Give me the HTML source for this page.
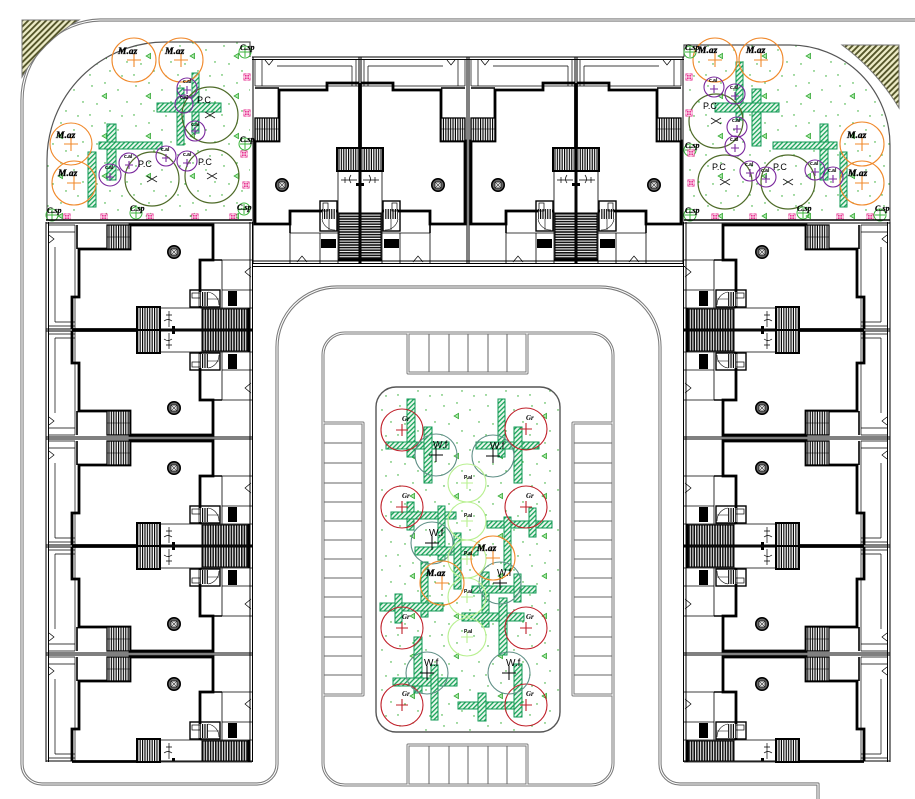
<!DOCTYPE html>
<html>
<head>
<meta charset="utf-8">
<style>
html,body{margin:0;padding:0;background:#fff;}
svg{display:block;}
.mz{font-family:"Liberation Serif",serif;font-style:italic;font-weight:bold;font-size:9.5px;fill:#000;stroke:#000;stroke-width:.35px;}
.cs{font-family:"Liberation Serif",serif;font-style:italic;font-weight:bold;font-size:8px;fill:#000;stroke:#000;stroke-width:.2px;}
.pc{font-family:"Liberation Sans",sans-serif;font-size:9px;fill:#000;}
.wf{font-family:"Liberation Sans",sans-serif;font-size:10px;fill:#000;}
.tn{font-family:"Liberation Sans",sans-serif;font-weight:bold;font-size:5px;fill:#000;}
.gr{font-family:"Liberation Serif",serif;font-style:italic;font-weight:bold;font-size:7px;fill:#000;}
</style>
</head>
<body>
<svg width="915" height="799" viewBox="0 0 915 799" xmlns="http://www.w3.org/2000/svg">
<defs>
  <pattern id="vs" width="2.4" height="10" patternUnits="userSpaceOnUse">
    <rect width="2.4" height="10" fill="#fff"/><rect width="1.15" height="10" fill="#000"/>
  </pattern>
  <pattern id="hs" width="10" height="2.4" patternUnits="userSpaceOnUse">
    <rect width="10" height="2.4" fill="#fff"/><rect width="10" height="1.15" fill="#000"/>
  </pattern>
  <pattern id="dn" width="2.6" height="20" patternUnits="userSpaceOnUse">
    <rect width="2.6" height="20" fill="#fff"/><rect width="1.6" height="20" fill="#111"/>
  </pattern>
  <pattern id="ol" width="4.2" height="4.2" patternUnits="userSpaceOnUse" patternTransform="rotate(45)">
    <rect width="4.2" height="4.2" fill="#ecebc6"/><rect width="1.9" height="4.2" fill="#55562a"/>
  </pattern>
  <pattern id="gh" width="3.3" height="3.3" patternUnits="userSpaceOnUse" patternTransform="rotate(45)">
    <rect width="3.3" height="3.3" fill="#e8f7ec"/><rect width="1.3" height="3.3" fill="#1aa35a"/>
  </pattern>
  <pattern id="gd" width="44" height="40" patternUnits="userSpaceOnUse">
    <rect width="44" height="40" fill="#fff"/>
    <g fill="#22a822">
      <circle cx="4" cy="6" r=".7"/><circle cx="17" cy="3" r=".7"/><circle cx="30" cy="10" r=".7"/>
      <circle cx="39" cy="22" r=".7"/><circle cx="9" cy="24" r=".7"/><circle cx="22" cy="31" r=".7"/>
      <circle cx="34" cy="36" r=".7"/><circle cx="2" cy="35" r=".7"/>
    </g>
    <path d="M14,16 l4.5,-2.6 v5.2z" fill="#a8e6a8" stroke="#1f9f1f" stroke-width=".7"/>
  </pattern>
  <g id="mg">
    <rect x="-3.5" y="-3.5" width="7" height="7" fill="#e6288c"/>
    <path d="M-2.3,-2.3h4.6v4.6h-4.6z M0,-3.5v7 M-3.5,0h7" stroke="#fff" stroke-width=".7" fill="none"/>
  </g>

  <g id="ua" fill="none" stroke="#000">
    <path d="M0,0V108M2.5,0V108M204,0V108M206.5,0V108M0,1H206.5M0,107H206.5" stroke-width="1"/>
    <path d="M9,25V100M29,3V108M2.5,10H29M2.5,3H29M9,100H29M2.5,104H29" stroke-width=".7"/>
    <path d="M3,13L8,17L3,21" stroke-width=".7"/>
    <path d="M31,3V27" stroke-width="1.6"/>
    <path d="M26,107V75H33V27H84V3H167V38H154V86" stroke-width="2.8"/>
    <rect x="61" y="3" width="23" height="24" fill="url(#vs)" stroke-width="1.3"/>
    <path d="M61,15H84" stroke-width=".6"/>
    <path d="M26,107.5H91" stroke-width="2.8"/>
    <rect x="91" y="85" width="23" height="23" fill="url(#vs)" stroke-width="2"/>
    <path d="M114,86H156M114,108H206" stroke-width=".8"/>
    <path d="M123,89V105M120,93H126M118,99q4,-3 8,0" stroke-width=".7"/>
    <rect x="126" y="104" width="3" height="3" fill="#000" stroke="none"/>
    <rect x="156" y="87" width="46" height="20" fill="url(#dn)" stroke-width="1"/>
    <path d="M203,86V108" stroke-width="2.6"/>
    <rect x="144" y="68" width="30" height="17" stroke-width="1.4"/>
    <rect x="152" y="70" width="10" height="14" fill="url(#vs)" stroke="none"/>
    <path d="M162,70A13,13 0 0 1 173,83M162,77H173" stroke-width=".6"/>
    <rect x="146" y="71" width="8" height="5" stroke-width=".7"/>
    <rect x="182" y="69" width="9" height="15" fill="#000" stroke="none"/>
    <path d="M176,38V86M167,38H206M176,68H206M154,86H206" stroke-width=".8"/>
    <path d="M154,38H176" stroke-width="1.6"/>
    <path d="M205,45L199,50L205,55" stroke-width=".7"/>
    <circle cx="128" cy="30" r="6.2" fill="#666" stroke="#000" stroke-width="1.6"/>
    <rect x="125" y="27" width="6" height="6" fill="#ddd" stroke="#000" stroke-width=".6"/>
    <path d="M125,27L131,33M131,27L125,33" stroke-width=".5"/>
  </g>
  <g id="ut" fill="none" stroke="#000">
    <path d="M0,0V108M2.5,0V108M204,0V108M206.5,0V108M0,1H206.5M0,107H206.5" stroke-width="1"/>
    <path d="M9,25V100M29,3V108M2.5,10H29M2.5,3H29M9,100H29M2.5,104H29" stroke-width=".7"/>
    <path d="M3,13L8,17L3,21" stroke-width=".7"/>
    <path d="M31,3V27" stroke-width="1.6"/>
    <path d="M26,107V75H33V27H84V3H167V38H154V86" stroke-width="2.8"/>
    <rect x="61" y="3" width="23" height="24" fill="url(#hs)" stroke-width="1.3"/>
    <path d="M72,3V27" stroke-width=".6"/>
    <path d="M26,107.5H91" stroke-width="2.8"/>
    <rect x="91" y="85" width="23" height="23" fill="url(#hs)" stroke-width="2"/>
    <path d="M114,86H156M114,108H206" stroke-width=".8"/>
    <path d="M123,89V105M120,93H126M118,99q4,-3 8,0" stroke-width=".7"/>
    <rect x="126" y="104" width="3" height="3" fill="#000" stroke="none"/>
    <rect x="156" y="87" width="46" height="20" fill="url(#dn)" stroke-width="1"/>
    <path d="M203,86V108" stroke-width="2.6"/>
    <rect x="144" y="68" width="30" height="17" stroke-width="1.4"/>
    <rect x="152" y="70" width="10" height="14" fill="url(#hs)" stroke="none"/>
    <path d="M162,70A13,13 0 0 1 173,83M162,77H173" stroke-width=".6"/>
    <rect x="146" y="71" width="8" height="5" stroke-width=".7"/>
    <rect x="182" y="69" width="9" height="15" fill="#000" stroke="none"/>
    <path d="M176,38V86M167,38H206M176,68H206M154,86H206" stroke-width=".8"/>
    <path d="M154,38H176" stroke-width="1.6"/>
    <path d="M205,45L199,50L205,55" stroke-width=".7"/>
    <circle cx="128" cy="30" r="6.2" fill="#666" stroke="#000" stroke-width="1.6"/>
    <rect x="125" y="27" width="6" height="6" fill="#ddd" stroke="#000" stroke-width=".6"/>
    <path d="M125,27L131,33M131,27L125,33" stroke-width=".5"/>
  </g>
  <g id="pair">
    <use href="#ua"/>
    <use href="#ua" transform="matrix(1,0,0,-1,0,216)"/>
  </g>
  <g id="pairT">
    <use href="#ut"/>
    <use href="#ut" transform="matrix(1,0,0,-1,0,216)"/>
  </g>
</defs>

<!-- road outline (double line) -->
<g fill="none" stroke-linejoin="round">
  <path d="M915,20 H100 A80,80 0 0 0 22,100 V764 A20,20 0 0 0 42,784 H257 A20,20 0 0 0 277,764 V347 A60,60 0 0 1 337,287 H600 A60,60 0 0 1 660,347 V764 A20,20 0 0 0 680,784 H818 V799" stroke="#7a7a7a" stroke-width="3.2"/>
  <path d="M915,20 H100 A80,80 0 0 0 22,100 V764 A20,20 0 0 0 42,784 H257 A20,20 0 0 0 277,764 V347 A60,60 0 0 1 337,287 H600 A60,60 0 0 1 660,347 V764 A20,20 0 0 0 680,784 H818 V799" stroke="#fff" stroke-width="1.1"/>
</g>

<!-- corner hatched triangles -->
<path d="M22,20 L79,20 Q42,42 22,77 Z" fill="url(#ol)" stroke="#777" stroke-width="1"/>
<path d="M842,45 L899,45 L899,108 Q876,70 842,45 Z" fill="url(#ol)" stroke="#777" stroke-width="1"/>

<!-- gardens -->
<path d="M47,220 L47,160 A118,118 0 0 1 165,42 L250,42 L250,220 Z" fill="url(#gd)"/>
<path d="M47,220 L47,160 A118,118 0 0 1 165,42 L250,42 L250,57" fill="none" stroke="#555" stroke-width="1.2"/>
<path d="M684,220 L684,45 L790,45 A100,100 0 0 1 890,145 L890,220 Z" fill="url(#gd)"/>
<path d="M684,57 L684,45 L790,45 A100,100 0 0 1 890,145 L890,222" fill="none" stroke="#555" stroke-width="1.2"/>

<!-- hatched bars gardens -->
<g fill="url(#gh)" stroke="#129a55" stroke-width="1">
  <rect x="177" y="88" width="7" height="57"/><rect x="192" y="73" width="7" height="60"/>
  <rect x="157" y="103" width="64" height="9"/><rect x="107" y="124" width="9" height="56"/>
  <rect x="99" y="142" width="63" height="7"/><rect x="88" y="152" width="8" height="55"/>
  <rect x="736" y="62" width="7" height="58"/><rect x="752" y="89" width="9" height="57"/>
  <rect x="715" y="103" width="64" height="9"/><rect x="820" y="124" width="8" height="56"/>
  <rect x="773" y="142" width="64" height="7"/><rect x="840" y="152" width="7" height="55"/>
</g>

<!-- garden trees -->
<g fill="none">
  <g stroke="#f0882a" stroke-width="1.1">
    <circle cx="134" cy="60" r="22"/><circle cx="181" cy="60" r="22"/>
    <circle cx="71" cy="144" r="21"/><circle cx="74" cy="183" r="22"/>
    <circle cx="715" cy="60" r="22"/><circle cx="761" cy="60" r="22"/>
    <circle cx="862" cy="144" r="22"/><circle cx="862" cy="183" r="22"/>
    <path d="M127,60h14M134,53v14M174,60h14M181,53v14M64,144h14M71,137v14M67,183h14M74,176v14"/>
    <path d="M708,60h14M715,53v14M754,60h14M761,53v14M855,144h14M862,137v14M855,183h14M862,176v14"/>
  </g>
  <g stroke="#4e6b28" stroke-width="1.2">
    <circle cx="210" cy="115" r="28"/><circle cx="152" cy="179" r="27"/><circle cx="212" cy="176" r="27"/>
    <circle cx="716" cy="121" r="27"/><circle cx="725" cy="182" r="27"/><circle cx="788" cy="182" r="27"/>
  </g>
  <g stroke="#222" stroke-width=".9">
    <path d="M205,112l10,6M205,118l10,-6M147,176l10,6M147,182l10,-6M207,173l10,6M207,179l10,-6"/>
    <path d="M711,118l10,6M711,124l10,-6M720,179l10,6M720,185l10,-6M783,179l10,6M783,185l10,-6"/>
  </g>
  <g stroke="#7b2a9e" stroke-width="1.1">
    <circle cx="187" cy="88" r="10"/><circle cx="184" cy="104" r="9"/><circle cx="195" cy="131" r="10"/>
    <circle cx="110" cy="175" r="11"/><circle cx="129" cy="163" r="10"/><circle cx="166" cy="156" r="10"/>
    <circle cx="187" cy="161" r="10"/>
    <circle cx="714" cy="87" r="10"/><circle cx="735" cy="94" r="10"/><circle cx="737" cy="127" r="10"/>
    <circle cx="735" cy="146" r="10"/><circle cx="750" cy="171" r="10"/><circle cx="766" cy="177" r="10"/>
    <circle cx="815" cy="170" r="10"/><circle cx="833" cy="177" r="10"/>
    <path d="M183,90h8M187,86v8M191,131h8M195,127v8M106,177h8M110,173v8M125,165h8M129,161v8M162,158h8M166,154v8M183,163h8M187,159v8"/>
    <path d="M710,89h8M714,85v8M731,96h8M735,92v8M733,129h8M737,125v8M731,148h8M735,144v8M746,173h8M750,169v8M762,179h8M766,175v8M811,172h8M815,168v8M829,179h8M833,175v8"/>
  </g>
  <g stroke="#3cb43c" stroke-width="1">
    <circle cx="245" cy="52" r="6"/><circle cx="245" cy="144" r="6"/><circle cx="244" cy="209" r="6"/>
    <circle cx="52" cy="215" r="6"/><circle cx="136" cy="213" r="6"/>
    <circle cx="690" cy="52" r="6"/><circle cx="690" cy="150" r="6"/><circle cx="690" cy="215" r="6"/>
    <circle cx="803" cy="213" r="6"/><circle cx="880" cy="215" r="6"/>
    <path d="M240,52h10M245,47v10M240,144h10M245,139v10M239,209h10M244,204v10M47,215h10M52,210v10M131,213h10M136,208v10"/>
    <path d="M685,52h10M690,47v10M685,150h10M690,145v10M685,215h10M690,210v10M798,213h10M803,208v10M875,215h10M880,210v10"/>
  </g>
</g>
<g>
  <use href="#mg" x="247" y="77"/><use href="#mg" x="247" y="113"/><use href="#mg" x="244" y="154"/>
  <use href="#mg" x="246" y="185"/><use href="#mg" x="67" y="217"/><use href="#mg" x="104" y="217"/>
  <use href="#mg" x="150" y="217"/><use href="#mg" x="195" y="217"/><use href="#mg" x="233" y="217"/>
  <use href="#mg" x="689" y="77"/><use href="#mg" x="689" y="113"/><use href="#mg" x="691" y="153"/>
  <use href="#mg" x="691" y="183"/><use href="#mg" x="715" y="217"/><use href="#mg" x="753" y="217"/>
  <use href="#mg" x="792" y="217"/><use href="#mg" x="840" y="217"/><use href="#mg" x="870" y="217"/>
</g>
<!-- garden labels -->
<g>
  <text class="mz" x="118" y="54">M.az</text><text class="mz" x="165" y="54">M.az</text>
  <text class="mz" x="56" y="138">M.az</text><text class="mz" x="58" y="176">M.az</text>
  <text class="mz" x="698" y="53">M.az</text><text class="mz" x="746" y="53">M.az</text>
  <text class="mz" x="847" y="138">M.az</text><text class="mz" x="848" y="176">M.az</text>
  <text class="pc" x="197" y="103">P.C</text><text class="pc" x="138" y="167">P.C</text><text class="pc" x="198" y="165">P.C</text>
  <text class="pc" x="703" y="109">P.C</text><text class="pc" x="712" y="170">P.C</text><text class="pc" x="773" y="170">P.C</text>
  <text class="cs" x="240" y="50">C.sp</text><text class="cs" x="240" y="142">C.sp</text><text class="cs" x="237" y="210">C.sp</text>
  <text class="cs" x="47" y="213">C.sp</text><text class="cs" x="130" y="211">C.sp</text>
  <text class="cs" x="685" y="50">C.sp</text><text class="cs" x="685" y="148">C.sp</text><text class="cs" x="685" y="213">C.sp</text>
  <text class="cs" x="797" y="211">C.sp</text><text class="cs" x="875" y="211">C.sp</text>
  <text class="tn" x="183" y="83">c.al</text><text class="tn" x="180" y="99">c.al</text><text class="tn" x="191" y="126">c.al</text>
  <text class="tn" x="105" y="169">c.al</text><text class="tn" x="124" y="158">c.al</text><text class="tn" x="161" y="151">c.al</text>
  <text class="tn" x="183" y="156">c.al</text>
  <text class="tn" x="709" y="82">c.al</text><text class="tn" x="730" y="89">c.al</text><text class="tn" x="732" y="122">c.al</text>
  <text class="tn" x="730" y="141">c.al</text><text class="tn" x="745" y="166">c.al</text><text class="tn" x="761" y="172">c.al</text>
  <text class="tn" x="810" y="165">c.al</text><text class="tn" x="828" y="172">c.al</text>
</g>

<!-- buildings -->
<use href="#pair" transform="translate(46,222)"/>
<use href="#pair" transform="translate(46,438)"/>
<use href="#ua" transform="translate(46,654)"/>
<use href="#pair" transform="matrix(-1,0,0,1,890,222)"/>
<use href="#pair" transform="matrix(-1,0,0,1,890,438)"/>
<use href="#ua" transform="matrix(-1,0,0,1,890,654)"/>
<use href="#pairT" transform="matrix(0,1,1,0,252,57)"/>
<use href="#pairT" transform="matrix(0,1,1,0,468,57)"/>
<path d="M252,266.5H685" stroke="#000" stroke-width="1" fill="none"/>
<path d="M46,220H252M684,220H890" stroke="#000" stroke-width="1.4" fill="none"/>

<!-- central island / parking -->
<g fill="none" stroke-linejoin="round">
  <g stroke="#7a7a7a" stroke-width="3">
    <rect x="323" y="333" width="290" height="452" rx="22"/>
    <rect x="408" y="333" width="119" height="40"/>
    <rect x="408" y="745" width="119" height="40"/>
    <rect x="323" y="423" width="40" height="272"/>
    <rect x="573" y="423" width="40" height="272"/>
  </g>
  <g stroke="#fff" stroke-width="1">
    <rect x="323" y="333" width="290" height="452" rx="22"/>
    <rect x="408" y="333" width="119" height="40"/>
    <rect x="408" y="745" width="119" height="40"/>
    <rect x="323" y="423" width="40" height="272"/>
    <rect x="573" y="423" width="40" height="272"/>
  </g>
  <path stroke="#666" stroke-width="1" d="M429,334V372M449,334V372M468,334V372M488,334V372M507,334V372M429,746V784M449,746V784M468,746V784M488,746V784M507,746V784
  M324,443H362M324,463H362M324,483H362M324,502H362M324,521H362M324,540H362M324,559H362M324,578H362M324,597H362M324,617H362M324,637H362M324,656H362M324,675H362
  M574,443H612M574,463H612M574,483H612M574,502H612M574,521H612M574,540H612M574,559H612M574,578H612M574,597H612M574,617H612M574,637H612M574,656H612M574,675H612"/>
</g>
<rect x="376" y="387" width="184" height="345" rx="20" fill="url(#gd)" stroke="#555" stroke-width="1.4"/>
<g fill="url(#gh)" stroke="#129a55" stroke-width="1">
  <rect x="407" y="399" width="8" height="58"/><rect x="386" y="442" width="63" height="7"/>
  <rect x="424" y="427" width="8" height="56"/><rect x="498" y="399" width="7" height="58"/>
  <rect x="476" y="442" width="63" height="7"/><rect x="514" y="427" width="8" height="56"/>
  <rect x="407" y="502" width="7" height="28"/><rect x="391" y="512" width="65" height="7"/>
  <rect x="438" y="506" width="7" height="54"/><rect x="487" y="521" width="65" height="7"/>
  <rect x="529" y="508" width="7" height="29"/><rect x="504" y="517" width="7" height="53"/>
  <rect x="415" y="547" width="63" height="8"/><rect x="454" y="533" width="7" height="56"/>
  <rect x="421" y="562" width="7" height="55"/><rect x="380" y="603" width="63" height="8"/>
  <rect x="395" y="594" width="7" height="29"/><rect x="482" y="572" width="7" height="55"/>
  <rect x="472" y="586" width="64" height="7"/><rect x="462" y="613" width="62" height="8"/>
  <rect x="499" y="598" width="8" height="57"/><rect x="514" y="574" width="7" height="28"/>
  <rect x="414" y="637" width="8" height="56"/><rect x="393" y="678" width="64" height="8"/>
  <rect x="431" y="665" width="7" height="55"/><rect x="458" y="702" width="64" height="7"/>
  <rect x="478" y="693" width="8" height="28"/><rect x="514" y="664" width="8" height="53"/>
</g>
<g fill="none">
  <g stroke="#c0202a" stroke-width="1.1">
    <circle cx="402" cy="430" r="21"/><circle cx="526" cy="429" r="21"/>
    <circle cx="402" cy="507" r="21"/><circle cx="526" cy="507" r="21"/>
    <circle cx="402" cy="628" r="21"/><circle cx="526" cy="628" r="21"/>
    <circle cx="402" cy="705" r="21"/><circle cx="526" cy="705" r="21"/>
    <path d="M396,430h12M402,424v12M520,429h12M526,423v12M396,507h12M402,501v12M520,507h12M526,501v12M396,628h12M402,622v12M520,628h12M526,622v12M396,705h12M402,699v12M520,705h12M526,699v12"/>
  </g>
  <g stroke="#5f8f86" stroke-width="1.1">
    <circle cx="436" cy="455" r="21"/><circle cx="493" cy="456" r="21"/><circle cx="432" cy="543" r="21"/>
    <circle cx="500" cy="583" r="21"/><circle cx="427" cy="673" r="21"/><circle cx="509" cy="673" r="21"/>
  </g>
  <path stroke="#000" stroke-width="1" d="M429,455h14M436,448v14M486,456h14M493,449v14M425,543h14M432,536v14M493,583h14M500,576v14M420,673h14M427,666v14M502,673h14M509,666v14"/>
  <g stroke="#b8f090" stroke-width="1.1">
    <circle cx="467" cy="483" r="19"/><circle cx="467" cy="521" r="19"/><circle cx="467" cy="559" r="19"/>
    <circle cx="467" cy="597" r="19"/><circle cx="467" cy="637" r="19"/>
    <path d="M461,483h12M467,477v12M461,521h12M467,515v12M461,559h12M467,553v12M461,597h12M467,591v12M461,637h12M467,631v12"/>
  </g>
  <g stroke="#f0882a" stroke-width="1.1">
    <circle cx="493" cy="558" r="22"/><circle cx="442" cy="583" r="22"/>
    <path d="M486,558h14M493,551v14M435,583h14M442,576v14"/>
  </g>
</g>
<g>
  <text class="gr" x="402" y="421">Gr</text><text class="gr" x="526" y="420">Gr</text>
  <text class="gr" x="402" y="498">Gr</text><text class="gr" x="526" y="498">Gr</text>
  <text class="gr" x="402" y="619">Gr</text><text class="gr" x="526" y="619">Gr</text>
  <text class="gr" x="402" y="696">Gr</text><text class="gr" x="526" y="696">Gr</text>
  <text class="wf" x="433" y="448">W.f</text><text class="wf" x="490" y="449">W.f</text><text class="wf" x="429" y="536">W.f</text>
  <text class="wf" x="497" y="576">W.f</text><text class="wf" x="424" y="666">W.f</text><text class="wf" x="506" y="666">W.f</text>
  <text class="tn" x="464" y="479">P.al</text><text class="tn" x="464" y="517">P.al</text><text class="tn" x="464" y="555">P.al</text>
  <text class="tn" x="464" y="593">P.al</text><text class="tn" x="464" y="633">P.al</text>
  <text class="mz" x="477" y="551">M.az</text><text class="mz" x="426" y="576">M.az</text>
</g>
</svg>
</body>
</html>
